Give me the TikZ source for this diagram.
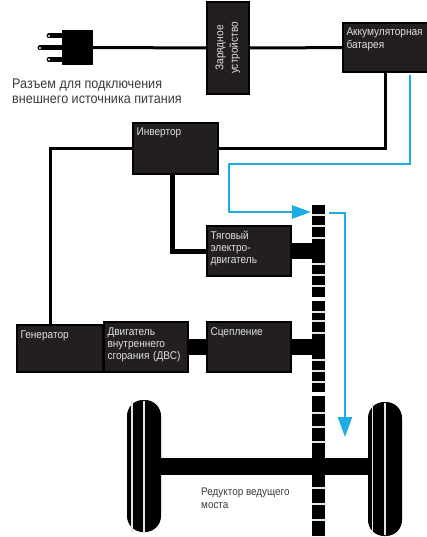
\documentclass[tikz,border=0pt]{standalone}
\usepackage{fontspec}
\usepackage{xcolor}
\setmainfont[FakeStretch=0.9]{Liberation Sans}
\definecolor{HybridBlue}{HTML}{1CADE4}
\definecolor{HybridBox}{HTML}{231F20}
\definecolor{HybridText}{HTML}{3A3A3A}
\definecolor{HybridLine}{HTML}{E4E4E4}
\usetikzlibrary{arrows.meta}
\tikzset{
    box/.style={fill=HybridBox, draw=black, line width=1.2pt, outer sep=0pt, anchor=north west,
        inner xsep=3.5pt, inner ysep=2pt, text=white!88!black, align=left, text height=11pt,
        font=\fontsize{11.2}{12.4}\selectfont},
    wire/.style={black, line width=3pt},
    drive/.style={black, line width=16pt},
    flow/.style={HybridBlue, line width=2.4pt},
    caption/.style={HybridText, align=left, anchor=north west, inner sep=0pt}
}
\begin{document}
\begin{tikzpicture}[x=1pt,y=-1pt]
        \useasboundingbox (0,0) rectangle (427,537);
        \node[fill=black, minimum width=31pt, minimum height=35pt, inner sep=0pt, outer sep=0pt] (plug) at (77.5,47.5) {};
        \coordinate (prongtop) at (49,36);
        \coordinate (prongmid) at (40,48);
        \coordinate (prongbot) at (49,59.5);
        \draw[black, line width=5pt, line cap=round] (plug.west |- prongtop) -- (prongtop);
        \draw[black, line width=5pt, line cap=round] (plug.west |- prongmid) -- (prongmid);
        \draw[black, line width=5pt, line cap=round] (plug.west |- prongbot) -- (prongbot);
        \foreach \tip in {prongtop,prongmid,prongbot}
            \fill[white] (\tip) circle (1.1pt);
        \node[caption, font=\fontsize{14}{15}\selectfont] (plugtext) at (12,79) {Разъем для подключения\\внешнего источника питания};

        \node[fill=HybridBox, draw=black, line width=1.2pt, outer sep=0pt, rotate=90, minimum width=92pt, minimum height=42pt,
            inner sep=0pt, text=white!88!black, align=center, font=\fontsize{11.2}{14.5}\selectfont] (charger) at (228,48) {Зарядное\\устройство};
        \node[box, text width=78pt, text depth=34pt] (battery) at (343,23) {Аккумуляторная\\батарея};
        \node[box, text width=78pt, text depth=36pt] (inverter) at (133,123) {Инвертор};
        \node[box, text width=77pt, text depth=35pt] (motor) at (207,226) {Тяговый\\электро-\\двигатель};
        \node[box, text width=79pt, text depth=32pt] (generator) at (17,325) {Генератор};
        \node[box, text width=77pt, text depth=35pt] (engine) at (104,322) {Двигатель\\внутреннего\\сгорания (ДВС)};
        \node[box, text width=77pt, text depth=35pt] (clutch) at (207,322) {Сцепление};

        \node[fill=black, minimum width=13pt, minimum height=331pt, inner sep=0pt, outer sep=0pt] (shaft) at (318.5,370.5) {};
        \node[fill=black, rounded corners=16pt, minimum width=34pt, minimum height=132pt, inner sep=0pt, outer sep=0pt] (wheelleft) at (144,466) {};
        \node[fill=black, rounded corners=16pt, minimum width=34pt, minimum height=134pt, inner sep=0pt, outer sep=0pt] (wheelright) at (385,469) {};
        \node[caption, font=\fontsize{11}{13}\selectfont] (axletext) at (201,488) {Редуктор ведущего\\моста};

        \draw[wire] (plug) -- (charger);
        \draw[wire] (charger) -- (battery);
        \draw[wire] (battery.south) |- (inverter.east);
        \draw[wire] (inverter.west) -| ([xshift=-10pt]generator.north);
        \draw[wire, line width=5pt] ([xshift=-3.5pt]inverter.south) |- (motor.west);
        \draw[drive] (motor.east) -- (motor.east -| shaft.west);
        \draw[drive] (engine.east) -- (clutch.west);
        \draw[drive] (clutch.east) -- (clutch.east -| shaft.west);
        \draw[black, line width=17pt] (wheelleft.east) -- (wheelleft.east -| wheelright.west);

        \foreach \y in {215,226,238,264,275,286,312,321,333,360,371,382,413,427,442,488,504,520}
            \draw[HybridLine, line width=1.2pt] (311.5,\y) -- (325.5,\y);
        \foreach \y in {299,394}
            \draw[white, line width=4pt] (311,\y) -- (326,\y);

        \foreach \x in {132,144}
            \draw[HybridLine, line width=1.3pt] (\x,400.5) -- (\x,531.5);
        \foreach \x in {372.5,385}
            \draw[HybridLine, line width=1.3pt] (\x,403) -- (\x,535);

        \coordinate (batteryout) at (410,75);
        \coordinate (flowbend) at (229,164);
        \coordinate (shaftin) at (311,212);
        \coordinate (shaftout) at (329,213);
        \coordinate (axlein) at (345,437);
        \draw[flow, -{Triangle[length=19pt,width=13pt]}] (batteryout) |- (flowbend) |- (shaftin);
        \draw[flow, -{Triangle[length=20pt,width=14pt]}] (shaftout) -| (axlein);
    \end{tikzpicture}
\end{document}
